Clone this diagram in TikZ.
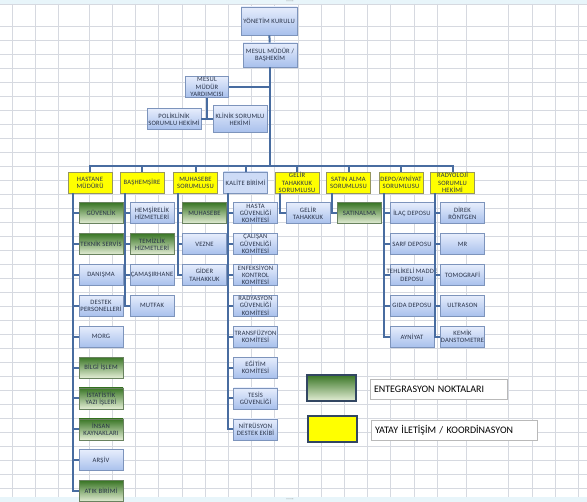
\documentclass[tikz,border=0pt]{standalone}
\usepackage{fontspec}
\setmainfont{Carlito}
\newfontfamily\cellface[LetterSpace=3]{Carlito}
\usepackage{xcolor}
\usepackage{tikz}
\usetikzlibrary{positioning, shadows}
\definecolor{gridgray}{RGB}{214,217,224}
\definecolor{sheetcyan}{RGB}{232,245,250}
\definecolor{linkblue}{RGB}{72,108,160}
\definecolor{boxtop}{RGB}{230,237,252}
\definecolor{boxbot}{RGB}{168,192,236}
\definecolor{boxline}{RGB}{125,148,188}
\definecolor{greentop}{RGB}{58,118,38}
\definecolor{greenbot}{RGB}{228,238,214}
\definecolor{greenline}{RGB}{105,130,95}
\definecolor{headyel}{RGB}{255,255,0}
\definecolor{yelline}{RGB}{150,150,95}
\definecolor{txtdark}{RGB}{40,50,72}
\definecolor{legline}{RGB}{50,70,98}
\newcommand{\cellfont}{\cellface\fontsize{6.6}{7.2}\selectfont}
\newcommand{\legfont}{\fontsize{10}{11}\selectfont}
\newcommand{\wide}[1]{\makebox[42pt][c]{#1}}

\begin{document}
\begin{tikzpicture}[x=1pt, y=-1pt,
    cell/.style={rectangle, line width=0.6pt, minimum width=44pt, minimum height=21pt,
                 inner sep=0.3pt, align=center, font=\cellfont, text=txtdark,
                 drop shadow={shadow xshift=0.7pt, shadow yshift=-0.7pt, opacity=0.25}},
    unit/.style={cell, draw=boxline, top color=boxtop, bottom color=boxbot},
    integ/.style={cell, draw=greenline, top color=greentop, bottom color=greenbot},
    head/.style={cell, draw=yelline, fill=headyel},
    conn/.style={draw=linkblue, line width=2pt},
    sheet/.style={draw=gridgray, line width=0.5pt},
    legbox/.style={rectangle, draw=legline, line width=1.6pt, minimum width=49pt, minimum height=26pt},
    legtext/.style={rectangle, draw=gray!55, fill=white, line width=0.5pt, minimum height=20pt,
                    inner xsep=4pt, align=left, font=\legfont, text=black}
]
\useasboundingbox (0,0) rectangle (587,502);

% spreadsheet background
\fill[white] (0,0) rectangle (587,502);
\fill[sheetcyan] (0,0) rectangle (587,4);
\fill[sheetcyan] (0,497) rectangle (587,502);
\foreach \gx in {12,35,58,89,112,135,158,182,205,228,251,274,298,321,344,367,390,414,437,466,508,532,555,578}
    \draw[sheet] (\gx,4) -- (\gx,497);
\draw[sheet] (0,4) -- (587,4);
\foreach \k in {0,...,33}
    \draw[sheet] (0,26+14*\k) -- (587,26+14*\k);
\node[font=\fontsize{4}{4}\selectfont, text=gray] (pgtop) at (290,2) {****};
\node[font=\fontsize{4}{4}\selectfont, text=gray] (pgbot) at (290,500) {****};

% top of the chart
\node[unit, minimum width=56pt, minimum height=28pt] (yk) at (269,21) {YÖNETİM KURULU};
\node[unit, minimum width=54pt, minimum height=24pt] (mm) at (270,55) {MESUL MÜDÜR /\\BAŞHEKİM};
\node[unit, minimum width=43pt] (my) at (207,87) {MESUL\\MÜDÜR\\YARDIMCISI};
\node[unit, minimum width=54pt] (pk) at (174,119) {POLİKLİNİK\\\makebox[50pt][c]{SORUMLU HEKİMİ}};
\node[unit, minimum width=54pt, minimum height=27pt] (kl) at (240,119) {\makebox[50pt][c]{KLİNİK SORUMLU}\\HEKİMİ};

% heads
\node[head] (hm) at (90,182.5) {HASTANE\\MÜDÜRÜ};
\node[head] (bh) at (142,182.5) {BAŞHEMŞİRE};
\node[head] (mh) at (195.5,182.5) {MUHASEBE\\SORUMLUSU};
\node[unit, top color=boxtop!60!boxbot, bottom color=boxtop!60!boxbot] (kb) at (245.5,182.5) {\wide{KALİTE BİRİMİ}};
\node[head] (gt) at (297,182.5) {GELİR\\TAHAKKUK\\SORUMLUSU};
\node[head] (sa) at (348.5,182.5) {SATIN ALMA\\SORUMLUSU};
\node[head] (da) at (401,182.5) {\wide{DEPO/AYNİYAT}\\SORUMLUSU};
\node[head] (rd) at (452.5,182.5) {RADYOLOJİ\\SORUMLU\\HEKİMİ};

% hastane muduru
\node[integ, below right=9pt and 11pt of hm.south west] (guv) {GÜVENLİK};
\node[integ, below=9.3pt of guv] (tek) {\wide{TEKNİK SERVİS}};
\node[unit, below=9.3pt of tek] (dan) {DANIŞMA};
\node[unit, below=9.3pt of dan] (des) {DESTEK\\\wide{PERSONELLERİ}};
\node[unit, below=9.3pt of des] (mrg) {MORG};
\node[integ, below=9.3pt of mrg] (bil) {BİLGİ İŞLEM};
\node[integ, below=9.3pt of bil] (ist) {İSTATİSTİK\\YAZI İŞLERİ};
\node[integ, below=9.3pt of ist] (ins) {İNSAN\\\wide{KAYNAKLARI}};
\node[unit, below=9.3pt of ins] (ars) {ARŞİV};
\node[integ, below=9.3pt of ars] (atk) {ATIK BİRİMİ};

% bashemsire
\node[unit, below right=9pt and 10pt of bh.south west] (hem) {\wide{HEMŞİRELİK}\\\wide{HİZMETLERİ}};
\node[integ, below=9.3pt of hem] (tem) {TEMİZLİK\\\wide{HİZMETLERİ}};
\node[unit, below=9.3pt of tem] (cam) {\wide{ÇAMAŞIRHANE}};
\node[unit, below=9.3pt of cam] (mut) {MUTFAK};

% muhasebe
\node[integ, below right=9pt and 9pt of mh.south west] (muh) {MUHASEBE};
\node[unit, below=9.3pt of muh] (vez) {VEZNE};
\node[unit, below=9.3pt of vez] (gid) {GİDER\\TAHAKKUK};

% kalite
\node[unit, below right=9pt and 10pt of kb.south west] (hgk) {HASTA\\GÜVENLİĞİ\\KOMİTESİ};
\node[unit, below=9.3pt of hgk] (cgk) {ÇALIŞAN\\GÜVENLİĞİ\\KOMİTESİ};
\node[unit, below=9.3pt of cgk] (ekk) {\wide{ENFEKSİYON}\\KONTROL\\KOMİTESİ};
\node[unit, below=9.3pt of ekk] (rgk) {\wide{RADYASYON}\\GÜVENLİĞİ\\KOMİTESİ};
\node[unit, below=9.3pt of rgk] (trk) {\wide{TRANSFÜZYON}\\KOMİTESİ};
\node[unit, below=9.3pt of trk] (egk) {EĞİTİM\\KOMİTESİ};
\node[unit, below=9.3pt of egk] (tgv) {TESİS\\GÜVENLİĞİ};
\node[unit, below=9.3pt of tgv] (nde) {NİTRÜSYON\\\wide{DESTEK EKİBİ}};

% gelir, satin alma
\node[unit, below right=9pt and 11pt of gt.south west] (gtk) {GELİR\\TAHAKKUK};
\node[integ, below right=9pt and 11pt of sa.south west] (stn) {SATINALMA};

% depo
\node[unit, below right=9pt and 11pt of da.south west] (ilc) {\wide{İLAÇ DEPOSU}};
\node[unit, below=9.3pt of ilc] (srf) {\wide{SARF DEPOSU}};
\node[unit, below=9.3pt of srf] (thm) {\wide{TEHLİKELİ MADDE}\\DEPOSU};
\node[unit, below=9.3pt of thm] (gda) {\wide{GIDA DEPOSU}};
\node[unit, below=9.3pt of gda] (ayn) {AYNİYAT};

% radyoloji
\node[unit, below right=9pt and 10pt of rd.south west] (drk) {DİREK\\RÖNTGEN};
\node[unit, below=9.3pt of drk] (mr) {MR};
\node[unit, below=9.3pt of mr] (tom) {\wide{TOMOGRAFİ}};
\node[unit, below=9.3pt of tom] (ult) {ULTRASON};
\node[unit, below=9.3pt of ult] (kmk) {KEMİK\\\wide{DANSTOMETRE}};

% connectors
\path (hm.north) ++(0,-6) coordinate (bus);
\draw[conn] (yk) -- (mm);
\draw[conn] (mm.south) -- (mm.south |- bus);
\draw[conn] (my.east) -- (my.east -| mm.south);
\draw[conn] (my.south) -- (my.south |- pk.east);
\draw[conn] (pk.east) -- (kl.west);
\draw[conn] (hm.north) |- (bus -| rd.north) -- (rd.north);
\foreach \h in {bh,mh,kb,gt,sa,da}
    \draw[conn] (\h.north) -- (\h.north |- bus);

\coordinate (hmx) at ([xshift=5.5pt]hm.south west);
\draw[conn] (hmx) |- (atk.west);
\foreach \c in {guv,tek,dan,des,mrg,bil,ist,ins,ars}
    \draw[conn] (\c.west) -- (\c.west -| hmx);

\coordinate (bhx) at ([xshift=5pt]bh.south west);
\draw[conn] (bhx) |- (mut.west);
\foreach \c in {hem,tem,cam}
    \draw[conn] (\c.west) -- (\c.west -| bhx);

\coordinate (mhx) at ([xshift=4.5pt]mh.south west);
\draw[conn] (mhx) |- (gid.west);
\foreach \c in {muh,vez}
    \draw[conn] (\c.west) -- (\c.west -| mhx);

\coordinate (kbx) at ([xshift=5pt]kb.south west);
\draw[conn] (kbx) |- (nde.west);
\foreach \c in {hgk,cgk,ekk,rgk,trk,egk,tgv}
    \draw[conn] (\c.west) -- (\c.west -| kbx);

\coordinate (gtx) at ([xshift=5.5pt]gt.south west);
\draw[conn] (gtx) |- (gtk.west);
\coordinate (sax) at ([xshift=5.5pt]sa.south west);
\draw[conn] (sax) |- (stn.west);

\coordinate (dax) at ([xshift=5.5pt]da.south west);
\draw[conn] (dax) |- (ayn.west);
\foreach \c in {ilc,srf,thm,gda}
    \draw[conn] (\c.west) -- (\c.west -| dax);

\coordinate (rdx) at ([xshift=5pt]rd.south west);
\draw[conn] (rdx) |- (kmk.west);
\foreach \c in {drk,mr,tom,ult}
    \draw[conn] (\c.west) -- (\c.west -| rdx);

% legend
\node[legbox, top color=greentop, bottom color=greenbot] (lgg) at (331.5,388) {};
\node[legtext, text width=129pt] (ltg) at (438.5,389) {ENTEGRASYON NOKTALARI};
\node[legbox, fill=headyel] (lgy) at (332.5,429) {};
\node[legtext, text width=158pt] (lty) at (454,430.5) {YATAY İLETİŞİM / KOORDİNASYON};
\end{tikzpicture}
\end{document}
